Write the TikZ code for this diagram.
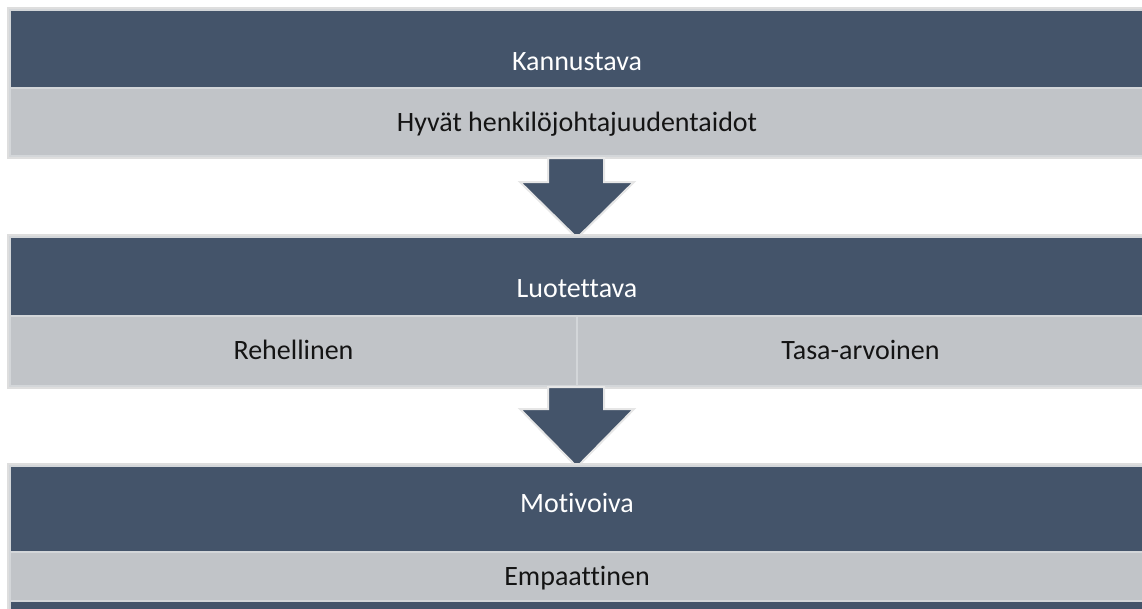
\documentclass[tikz,border=0pt]{standalone}
\usepackage{fontspec}
\setmainfont{Carlito}[Ligatures={NoCommon}]
\definecolor{slate}{HTML}{44546A}
\definecolor{mist}{HTML}{C1C4C8}
\definecolor{seam}{HTML}{D3D6D9}
\definecolor{framegray}{HTML}{DEDEDE}
\definecolor{arrowedge}{HTML}{E6E6E6}
\definecolor{ink}{HTML}{141414}
\begin{document}
\begin{tikzpicture}[x=1pt,y=-1pt,
  darkbar/.style={fill=slate, draw=seam, line width=1.2pt},
  lightbar/.style={fill=mist, draw=seam, line width=1.2pt},
  frame/.style={draw=framegray, line width=1.6pt},
  flow/.style={fill=slate, draw=arrowedge, line width=2pt, line join=miter},
  hdr/.style={text=white, font=\fontsize{28}{33}\selectfont, inner sep=0pt, anchor=base},
  sub/.style={text=ink, font=\fontsize{28}{33}\selectfont, inner sep=0pt, anchor=base}]
\useasboundingbox (0,0) rectangle (1142,608);
\clip (0,0) rectangle (1142,608);

% first stage
\draw[frame] (8,8) rectangle (1146,158);
\draw[darkbar] (10,10) rectangle (1144,88);
\draw[lightbar] (10,88) rectangle (1144,156);
\node[hdr] (kannustava) at (577,70) {Kannustava};
\node[sub] (hyvat) at (577,131) {Hyvät henkilöjohtajuudentaidot};

% arrow between first and second stage
\draw[flow] (548,158) -- (604,158) -- (604,182) -- (634,182) -- (577,238)
  -- (520,182) -- (548,182) -- cycle;

% second stage
\draw[frame] (8,235) rectangle (1146,388);
\draw[darkbar] (10,237) rectangle (1144,316);
\draw[lightbar] (10,316) rectangle (577,386);
\draw[lightbar] (577,316) rectangle (1144,386);
\node[hdr] (luotettava) at (577,297) {Luotettava};
\node[sub] (rehellinen) at (293.5,359) {Rehellinen};
\node[sub] (tasa) at (860.5,359) {Tasa-arvoinen};

% arrow between second and third stage
\draw[flow] (548,387) -- (604,387) -- (604,409) -- (634,409) -- (577,467)
  -- (520,409) -- (548,409) -- cycle;

% third stage
\draw[frame] (8,464) rectangle (1146,620);
\draw[darkbar] (10,466) rectangle (1144,552);
\draw[lightbar] (10,552) rectangle (1144,601);
\draw[darkbar] (10,601) rectangle (1144,640);
\node[hdr] (motivoiva) at (577,512) {Motivoiva};
\node[sub] (empaattinen) at (577,585) {Empaattinen};
\end{tikzpicture}
\end{document}
